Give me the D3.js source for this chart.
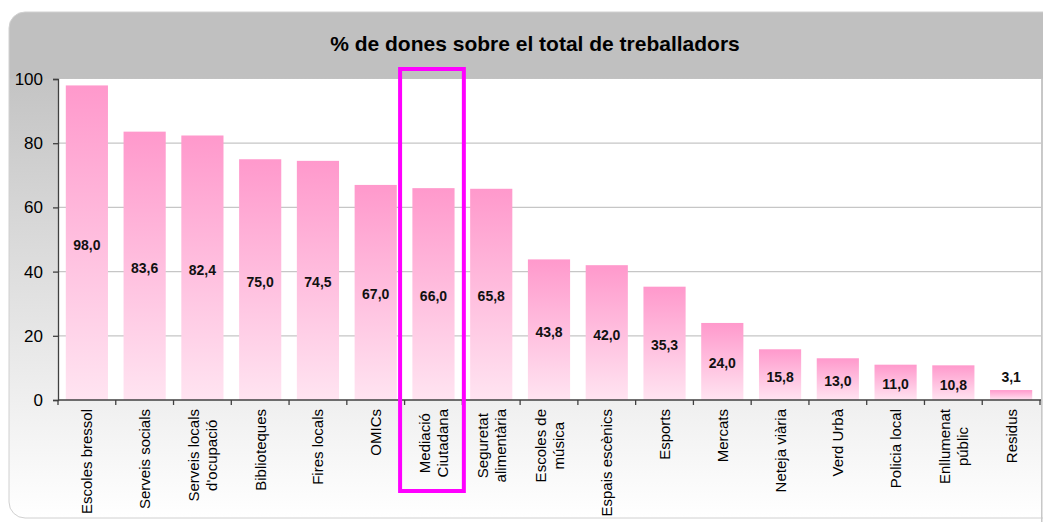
<!DOCTYPE html>
<html><head><meta charset="utf-8">
<script src="https://cdn.jsdelivr.net/npm/d3@7"></script>
<style>html,body{margin:0;padding:0;background:#fff;}svg{display:block;font-family:"Liberation Sans",Arial,sans-serif;}</style>
</head><body>
<svg id="chart" width="1043" height="522"></svg>
<script>
const categories = [
  ["Escoles bressol"], ["Serveis socials"], ["Serveis locals","d'ocupació"], ["Biblioteques"],
  ["Fires locals"], ["OMICs"], ["Mediació","Ciutadana"], ["Seguretat","alimentària"],
  ["Escoles de","música"], ["Espais escènics"], ["Esports"], ["Mercats"], ["Neteja viària"],
  ["Verd Urbà"], ["Policia local"], ["Enllumenat","públic"], ["Residus"]
];
const values = [98.0, 83.6, 82.4, 75.0, 74.5, 67.0, 66.0, 65.8, 43.8, 42.0, 35.3, 24.0, 15.8, 13.0, 11.0, 10.8, 3.1];
const yTicks = [0, 20, 40, 60, 80, 100];
const title = "% de dones sobre el total de treballadors";
const highlighted = "Mediació Ciutadana";

const svg = d3.select("#chart");
const plot = {left: 58, right: 1041, top: 79, bottom: 400};
const keys = categories.map(c => c.join(" "));

const defs = svg.append("defs");
const bg = defs.append("linearGradient").attr("id","bg").attr("gradientUnits","userSpaceOnUse")
  .attr("x1",0).attr("y1",12).attr("x2",0).attr("y2",518);
bg.append("stop").attr("offset","0").attr("stop-color","#c0c0c0");
bg.append("stop").attr("offset","0.13").attr("stop-color","#c0c0c0");
bg.append("stop").attr("offset","0.135").attr("stop-color","#c4c4c4");
bg.append("stop").attr("offset","1").attr("stop-color","#ffffff");
const bar = defs.append("linearGradient").attr("id","bar").attr("x1",0).attr("y1",0).attr("x2",0).attr("y2",1);
bar.append("stop").attr("offset","0").attr("stop-color","#ff99cc");
bar.append("stop").attr("offset","1").attr("stop-color","#ffe4f1");

// outer box (runs off the right edge)
svg.append("rect").attr("x",9).attr("y",12).attr("width",1060).attr("height",506)
  .attr("rx",16).attr("ry",16).attr("fill","url(#bg)").attr("stroke","#d0d0d0").attr("stroke-width",1);
// plot area
svg.append("rect").attr("x",plot.left).attr("y",plot.top).attr("width",plot.right-plot.left)
  .attr("height",plot.bottom-plot.top).attr("fill","#ffffff");
svg.append("line").attr("x1",plot.right+0.75).attr("x2",plot.right+0.75).attr("y1",plot.top).attr("y2",522)
  .attr("stroke","#c8c8c8").attr("stroke-width",1.5);

svg.append("text").attr("x",535).attr("y",43).attr("text-anchor","middle").attr("dominant-baseline","central")
  .attr("font-size",21).attr("font-weight","bold").attr("fill","#000").text(title);

const x = d3.scaleBand().domain(keys).range([plot.left, plot.right - 1]).paddingInner(0.27).paddingOuter(0.135);
const y = d3.scaleLinear().domain([0,100]).range([plot.bottom, plot.top]);

// gridlines
svg.append("g").selectAll("line").data(yTicks.filter(t => t > 0 && t < 100)).join("line")
  .attr("x1",plot.left).attr("x2",plot.right).attr("y1",d => y(d)).attr("y2",d => y(d))
  .attr("stroke","#c6c6c6").attr("stroke-width",1.2);

// bars
svg.append("g").selectAll("rect").data(values).join("rect")
  .attr("x",(d,i) => x(keys[i])).attr("width",x.bandwidth())
  .attr("y",d => y(d)).attr("height",d => y(0) - y(d)).attr("fill","url(#bar)");

// value labels
svg.append("g").selectAll("text").data(values).join("text")
  .attr("x",(d,i) => x(keys[i]) + x.bandwidth()/2)
  .attr("y",d => (y(0)-y(d)) < 20 ? y(d) - 13 : (y(d)+y(0))/2 + 2)
  .attr("text-anchor","middle").attr("dominant-baseline","central")
  .attr("font-size",14).attr("font-weight","bold").attr("fill","#111")
  .text(d => d3.format(".1f")(d).replace(".",","));

// y axis
const yAxis = svg.append("g").attr("transform",`translate(${plot.left},0)`)
  .call(d3.axisLeft(y).tickValues(yTicks).tickSize(5).tickPadding(10).tickFormat(d3.format("d")));
yAxis.select(".domain").attr("stroke","#404040").attr("stroke-width",1.3);
yAxis.selectAll(".tick line").attr("stroke","#404040").attr("stroke-width",1.3);
yAxis.selectAll(".tick text").attr("font-size",17).attr("fill","#000").attr("font-family","Liberation Sans, Arial, sans-serif");

// x axis line and boundary ticks
const step = x.step();
const bounds = d3.range(keys.length + 1).map(i => plot.left + i * (plot.right - 1 - plot.left) / keys.length);
svg.append("line").attr("x1",plot.left).attr("x2",plot.right).attr("y1",plot.bottom).attr("y2",plot.bottom)
  .attr("stroke","#404040").attr("stroke-width",1.3);
svg.append("g").selectAll("line").data(bounds).join("line")
  .attr("x1",d => d).attr("x2",d => d).attr("y1",plot.bottom).attr("y2",plot.bottom + 5)
  .attr("stroke","#404040").attr("stroke-width",1.3);

// category labels
const labelTop = 409, lh = 18;
const lg = svg.append("g");
categories.forEach((lines, i) => {
  const cx = x(keys[i]) + x.bandwidth()/2;
  const g = lg.append("g");
  const texts = lines.map(ln => g.append("text")
    .attr("font-size",15).attr("fill","#000").attr("dominant-baseline","central")
    .attr("text-anchor","middle").text(ln));
  const maxW = d3.max(texts, t => t.node().getComputedTextLength());
  const cy = labelTop + maxW/2;
  texts.forEach((t, j) => {
    const off = (j - (lines.length - 1)/2) * lh;
    t.attr("transform",`translate(${cx + off},${cy}) rotate(-90)`);
  });
});

// highlight box
const bandStart = x(highlighted) - (step - x.bandwidth())/2;
svg.append("rect").attr("x",bandStart - 4.5).attr("y",69)
  .attr("width",step + 6).attr("height",422)
  .attr("fill","none").attr("stroke","#ff00ff").attr("stroke-width",4);
</script>
</body></html>
